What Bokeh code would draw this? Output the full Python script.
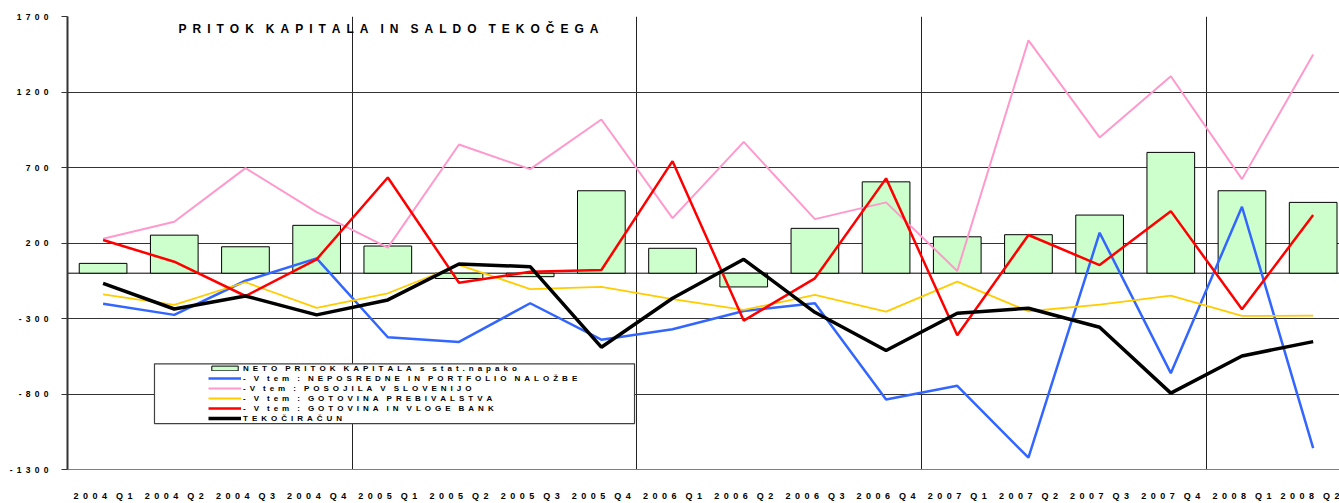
from bokeh.plotting import figure
from bokeh.models import Range1d, FixedTicker, Legend, LegendItem, BoxAnnotation, Label, Span
from bokeh.embed import file_html
from bokeh.resources import INLINE

categories = ["2004 Q1", "2004 Q2", "2004 Q3", "2004 Q4", "2005 Q1", "2005 Q2", "2005 Q3", "2005 Q4",
              "2006 Q1", "2006 Q2", "2006 Q3", "2006 Q4", "2007 Q1", "2007 Q2", "2007 Q3", "2007 Q4",
              "2008 Q1", "2008 Q2"]
neto = [65, 252, 175, 317, 180, -35, -23, 546, 165, -91, 297, 605, 241, 255, 385, 800, 546, 469]
neposredne = [-202, -276, -50, 98, -424, -455, -199, -440, -371, -250, -199, -836, -746, -1222, 268, -662, 440, -1158]
posojila = [228, 341, 696, 405, 169, 852, 689, 1018, 365, 870, 358, 469, 15, 1542, 899, 1304, 623, 1448]
prebivalstva = [-140, -210, -60, -230, -133, 55, -105, -91, -172, -243, -144, -254, -56, -252, -208, -149, -283, -281]
banke = [220, 76, -151, 92, 634, -63, 9, 21, 742, -314, -34, 628, -411, 253, 54, 411, -239, 385]
tekoci = [-67, -237, -151, -276, -177, 61, 43, -490, -166, 92, -259, -512, -265, -232, -358, -794, -548, -453]
y_ticks = [-1300, -800, -300, 200, 700, 1200, 1700]

title_text = "PRITOK KAPITALA IN SALDO TEKOČEGA"
labels = ["NETO PRITOK KAPITALA s stat.napako",
          "- V tem : NEPOSREDNE IN PORTFOLIO NALOŽBE",
          "-V tem : POSOJILA V SLOVENIJO",
          "- V tem : GOTOVINA PREBIVALSTVA",
          "- V tem : GOTOVINA IN VLOGE BANK",
          "TEKOČIRAČUN"]

FONT = "Liberation Sans"


def spaced(s):
    return "\u2003".join("\u2002".join(w) for w in s.split(" "))


x = list(range(len(categories)))

p = figure(width=1339, height=503, x_range=Range1d(-0.5, 17.37), y_range=Range1d(-1300, 1700),
           output_backend="svg", toolbar_location=None, title=None,
           min_border_left=67, min_border_right=0, min_border_top=16, min_border_bottom=33)
p.outline_line_color = None
p.background_fill_color = "white"

# axes
p.xaxis.ticker = FixedTicker(ticks=x)
p.xaxis.major_label_overrides = {i: spaced(c) for i, c in zip(x, categories)}
p.xaxis.major_tick_out = 0
p.xaxis.major_tick_in = 0
p.xaxis.minor_tick_line_color = None
p.xaxis.axis_line_color = "#808080"
p.xaxis.major_label_standoff = 21
p.xaxis.major_label_text_font = FONT
p.xaxis.major_label_text_font_style = "bold"
p.xaxis.major_label_text_font_size = "9px"
p.xaxis.major_label_text_color = "black"

p.yaxis.ticker = FixedTicker(ticks=y_ticks)
p.yaxis.major_label_overrides = {t: spaced(str(t)) for t in y_ticks}
p.yaxis.major_tick_out = 6
p.yaxis.major_tick_in = 0
p.yaxis.minor_tick_line_color = None
p.yaxis.axis_line_color = "#333333"
p.yaxis.axis_line_width = 2
p.yaxis.major_tick_line_color = "#333333"
p.yaxis.major_label_standoff = 13
p.yaxis.major_label_text_font = FONT
p.yaxis.major_label_text_font_style = "bold"
p.yaxis.major_label_text_font_size = "8.5px"
p.yaxis.major_label_text_color = "black"

p.ygrid.grid_line_color = "#333333"
p.ygrid.grid_line_width = 1
p.xgrid.ticker = FixedTicker(ticks=[3.5, 7.5, 11.5, 15.5])
p.xgrid.grid_line_color = "#222222"
p.xgrid.grid_line_width = 1

zero = Span(location=0, dimension="width", line_color="black", line_width=1, level="underlay")
p.add_layout(zero)

r_bar = p.vbar(x=x, top=neto, bottom=0, width=0.67, fill_color="#CCFFCC", line_color="black", line_width=1)
r_pink = p.line(x, posojila, line_color="#FF99CC", line_width=2)
r_blue = p.line(x, neposredne, line_color="#3366FF", line_width=2.5)
r_yellow = p.line(x, prebivalstva, line_color="#FFCC00", line_width=1.8)
r_red = p.line(x, banke, line_color="#FF0000", line_width=2.5)
r_black = p.line(x, tekoci, line_color="black", line_width=3.5)

title = Label(x=1.059, y=1614, text=spaced(title_text), text_font=FONT, text_font_style="bold",
              text_font_size="12px", text_baseline="middle", text_align="left", text_color="black")
p.add_layout(title)

box = BoxAnnotation(left=0.722, right=7.466, top=-600, bottom=-996, fill_color="white", fill_alpha=1,
                    line_color="#404040", line_width=1.2, line_alpha=1)
p.add_layout(box)

rends = [r_bar, r_blue, r_pink, r_yellow, r_red, r_black]
legend = Legend(items=[LegendItem(label=spaced(l), renderers=[r]) for l, r in zip(labels, rends)],
                location=(141, 46), padding=0, margin=0, spacing=0,
                glyph_width=33, glyph_height=6, label_height=10, label_standoff=2,
                label_text_font=FONT, label_text_font_style="bold", label_text_font_size="8px",
                label_text_color="black", border_line_alpha=0, background_fill_alpha=0)
p.add_layout(legend)

open("out.html", "w").write(file_html(p, INLINE))
